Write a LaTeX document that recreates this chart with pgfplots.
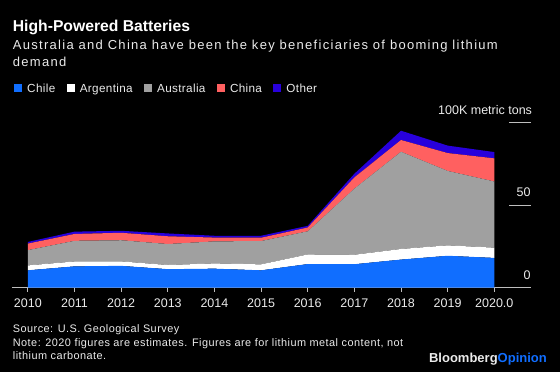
\documentclass[border=0pt]{standalone}
\usepackage{fontspec}
\setmainfont{Liberation Sans}
\usepackage{pgfplots}
\pgfplotsset{compat=1.18}
\definecolor{cChile}{RGB}{16,110,255}
\definecolor{cArg}{RGB}{255,255,255}
\definecolor{cAus}{RGB}{160,160,160}
\definecolor{cChina}{RGB}{255,96,96}
\definecolor{cOther}{RGB}{40,0,220}
\definecolor{axgray}{RGB}{190,190,190}
\definecolor{txt}{RGB}{235,235,235}
\begin{document}
\begin{tikzpicture}[x=1pt,y=1pt]
\fill[black] (0,0) rectangle (560,372);
% titles
\node[anchor=base west,inner sep=0,text=white,font=\fontsize{15.7}{18}\selectfont\bfseries] at (12.7,372-31.7) {High-Powered Batteries};
\node[anchor=base west,inner sep=0,text=txt,font=\fontsize{13}{16}\selectfont\addfontfeature{LetterSpace=9.9}] at (12.7,372-50) {Australia and China have been the key beneficiaries of booming lithium};
\node[anchor=base west,inner sep=0,text=txt,font=\fontsize{13}{16}\selectfont\addfontfeature{LetterSpace=9.9}] at (12.7,372-66.7) {demand};
% notes
\node[anchor=base west,inner sep=0,text=txt,font=\fontsize{10.9}{13}\selectfont\addfontfeature{LetterSpace=4.2}] at (12.7,372-333) {Source: U.S. Geological Survey};
\node[anchor=base west,inner sep=0,text=txt,font=\fontsize{10.9}{13}\selectfont\addfontfeature{LetterSpace=4.2}] at (12.7,372-346.5) {Note: 2020 figures are estimates. Figures are for lithium metal content, not};
\node[anchor=base west,inner sep=0,text=txt,font=\fontsize{10.9}{13}\selectfont\addfontfeature{LetterSpace=4.2}] at (12.7,372-359.5) {lithium carbonate.};
\node[anchor=base east,inner sep=0,font=\fontsize{13}{15}\selectfont\bfseries] at (547,372-363) {\textcolor{txt}{Bloomberg}\textcolor{cChile}{Opinion}};
\begin{axis}[
  at={(12pt,84.3pt)}, anchor=south west,
  scale only axis, width=518.7pt, height=165.4pt,
  xmin=2009.66, xmax=2020.78, ymin=0, ymax=100,
  axis x line*=bottom, axis y line=none,
  x axis line style={axgray, line width=0.8pt, -},
  xtick={2010,...,2020},
  xticklabels={2010,2011,2012,2013,2014,2015,2016,2017,2018,2019,2020.0},
  tick align=outside,
  major tick length=4pt,
  x tick style={axgray, line width=0.8pt},
  xticklabel style={text=txt, font=\fontsize{12.5}{15}\selectfont, yshift=-4pt},
  ytick=\empty,
  stack plots=y,
  clip=false,
  legend style={at={(axis description cs:0.0039,1.2013)}, anchor=west, draw=none, fill=none, text=txt,
    font=\fontsize{11.7}{14}\selectfont\addfontfeature{LetterSpace=3}, legend columns=5, inner sep=0pt,
    nodes={inner sep=0pt, anchor=base west},
    /tikz/every even column/.append style={column sep=11.5pt},
    /tikz/every odd column/.append style={column sep=5pt}},
  legend cell align=left,
  legend image code/.code={\fill[#1] (0pt,0pt) rectangle (8pt,8pt);},
]
\addplot[fill=cChile, draw=none] coordinates {(2010,10.5)(2011,12.9)(2012,13.2)(2013,11.2)(2014,11.5)(2015,10.5)(2016,14.3)(2017,14.2)(2018,17.0)(2019,19.3)(2020,18.0)} \closedcycle;
\addplot[fill=cArg, draw=none] coordinates {(2010,2.95)(2011,2.95)(2012,2.7)(2013,2.5)(2014,3.2)(2015,3.6)(2016,5.8)(2017,5.7)(2018,6.4)(2019,6.3)(2020,6.2)} \closedcycle;
\addplot[fill=cAus, draw=none] coordinates {(2010,9.26)(2011,12.5)(2012,12.8)(2013,12.7)(2014,13.3)(2015,14.1)(2016,14.0)(2017,40.0)(2018,58.8)(2019,45.0)(2020,40.0)} \closedcycle;
\addplot[fill=cChina, draw=none] coordinates {(2010,3.95)(2011,4.14)(2012,4.5)(2013,4.7)(2014,2.3)(2015,2.0)(2016,2.3)(2017,6.8)(2018,7.1)(2019,10.8)(2020,14.0)} \closedcycle;
\addplot[fill=cOther, draw=none] coordinates {(2010,1.0)(2011,1.4)(2012,1.2)(2013,1.7)(2014,1.1)(2015,1.2)(2016,1.0)(2017,2.2)(2018,5.6)(2019,4.5)(2020,3.8)} \closedcycle;
\legend{Chile,Argentina,Australia,China,Other}
\draw[axgray, line width=0.8pt] (axis cs:2020.32,50) -- (axis cs:2020.78,50);
\draw[axgray, line width=0.8pt] (axis cs:2020.32,100) -- (axis cs:2020.78,100);
\node[anchor=south east, inner sep=0, text=txt, font=\fontsize{12.5}{15}\selectfont] at ([yshift=7.7pt]axis cs:2020.78,0) {0};
\node[anchor=south east, inner sep=0, text=txt, font=\fontsize{12.5}{15}\selectfont] at ([yshift=7.7pt]axis cs:2020.78,50) {50};
\node[anchor=south east, inner sep=0, text=txt, font=\fontsize{12.5}{15}\selectfont] at ([xshift=1.5pt,yshift=7.7pt]axis cs:2020.78,100) {100K metric tons};
\end{axis}
\end{tikzpicture}
\end{document}
